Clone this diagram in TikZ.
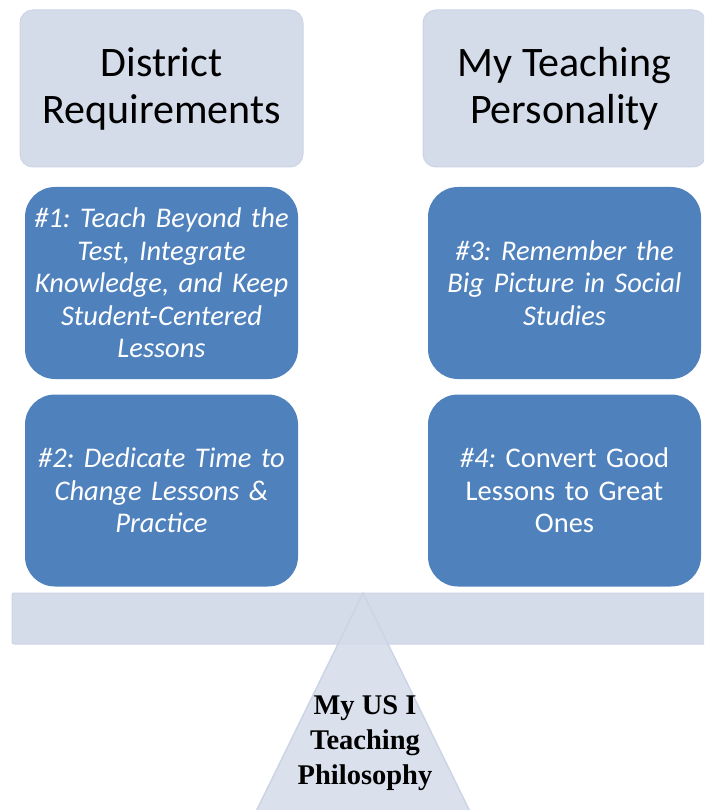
\documentclass[tikz,border=0pt]{standalone}
\usepackage{fontspec}
\setmainfont{Carlito}
\newfontfamily\philfont{Liberation Serif}
\usepackage{tikz}
\frenchspacing

\definecolor{paleblue}{HTML}{D4DCEA}
\definecolor{paleedge}{HTML}{CCD4E5}
\definecolor{midblue}{HTML}{4F81BD}

\tikzset{
  header/.style={draw=paleedge, line width=1pt, fill=paleblue, rounded corners=13pt,
    minimum width=283pt, minimum height=157pt, align=center,
    font=\fontsize{42}{47}\selectfont, text=black},
  goal/.style={fill=midblue, rounded corners=30pt, inner xsep=0pt,
    minimum width=273pt, minimum height=192pt, align=center, text width=271pt,
    font=\fontsize{28.5}{32.5}\selectfont, text=white},
}

\begin{document}
\begin{tikzpicture}[x=1pt, y=-1pt]
    \useasboundingbox (0, 0) rectangle (704, 810);
    \clip (0, 0) rectangle (704, 810);

    % headers
    \node[header](district) at (161.5, 88.5){District\\Requirements};
    \node[header](personality) at (564.5, 88.5){My Teaching\\Personality};

    % left column
    \node[goal](goalone) at (161.5, 283){\itshape \#1: Teach Beyond the\\Test, Integrate\\Knowledge, and Keep\\Student-Centered\\Lessons};
    \node[goal](goaltwo) at (161.5, 490.5){\itshape \#2: Dedicate Time to\\Change Lessons \&\\Practice};
    % right column
    \node[goal](goalthree) at (564.5, 283){\itshape \#3: Remember the\\Big Picture in Social\\Studies};
    \node[goal](goalfour) at (564.5, 490.5){\textit{\#4:} Convert Good\\Lessons to Great\\Ones};

    % the beam
    \draw[paleedge, fill=paleblue, line width=1pt, rounded corners=2pt]
      (12, 593) rectangle (730, 644);
    \coordinate(beamtop) at (363, 593);

    % the fulcrum
    \draw[paleedge, fill=paleblue, fill opacity=0.85, line width=1.5pt]
      (beamtop) -- (247, 830) -- (479, 830) -- cycle;
    \node[align=center, font=\philfont\bfseries\fontsize{28.5}{35}\selectfont](fulcrum)
      at (365, 743){My US I\\Teaching\\Philosophy};
  \end{tikzpicture}
\end{document}
